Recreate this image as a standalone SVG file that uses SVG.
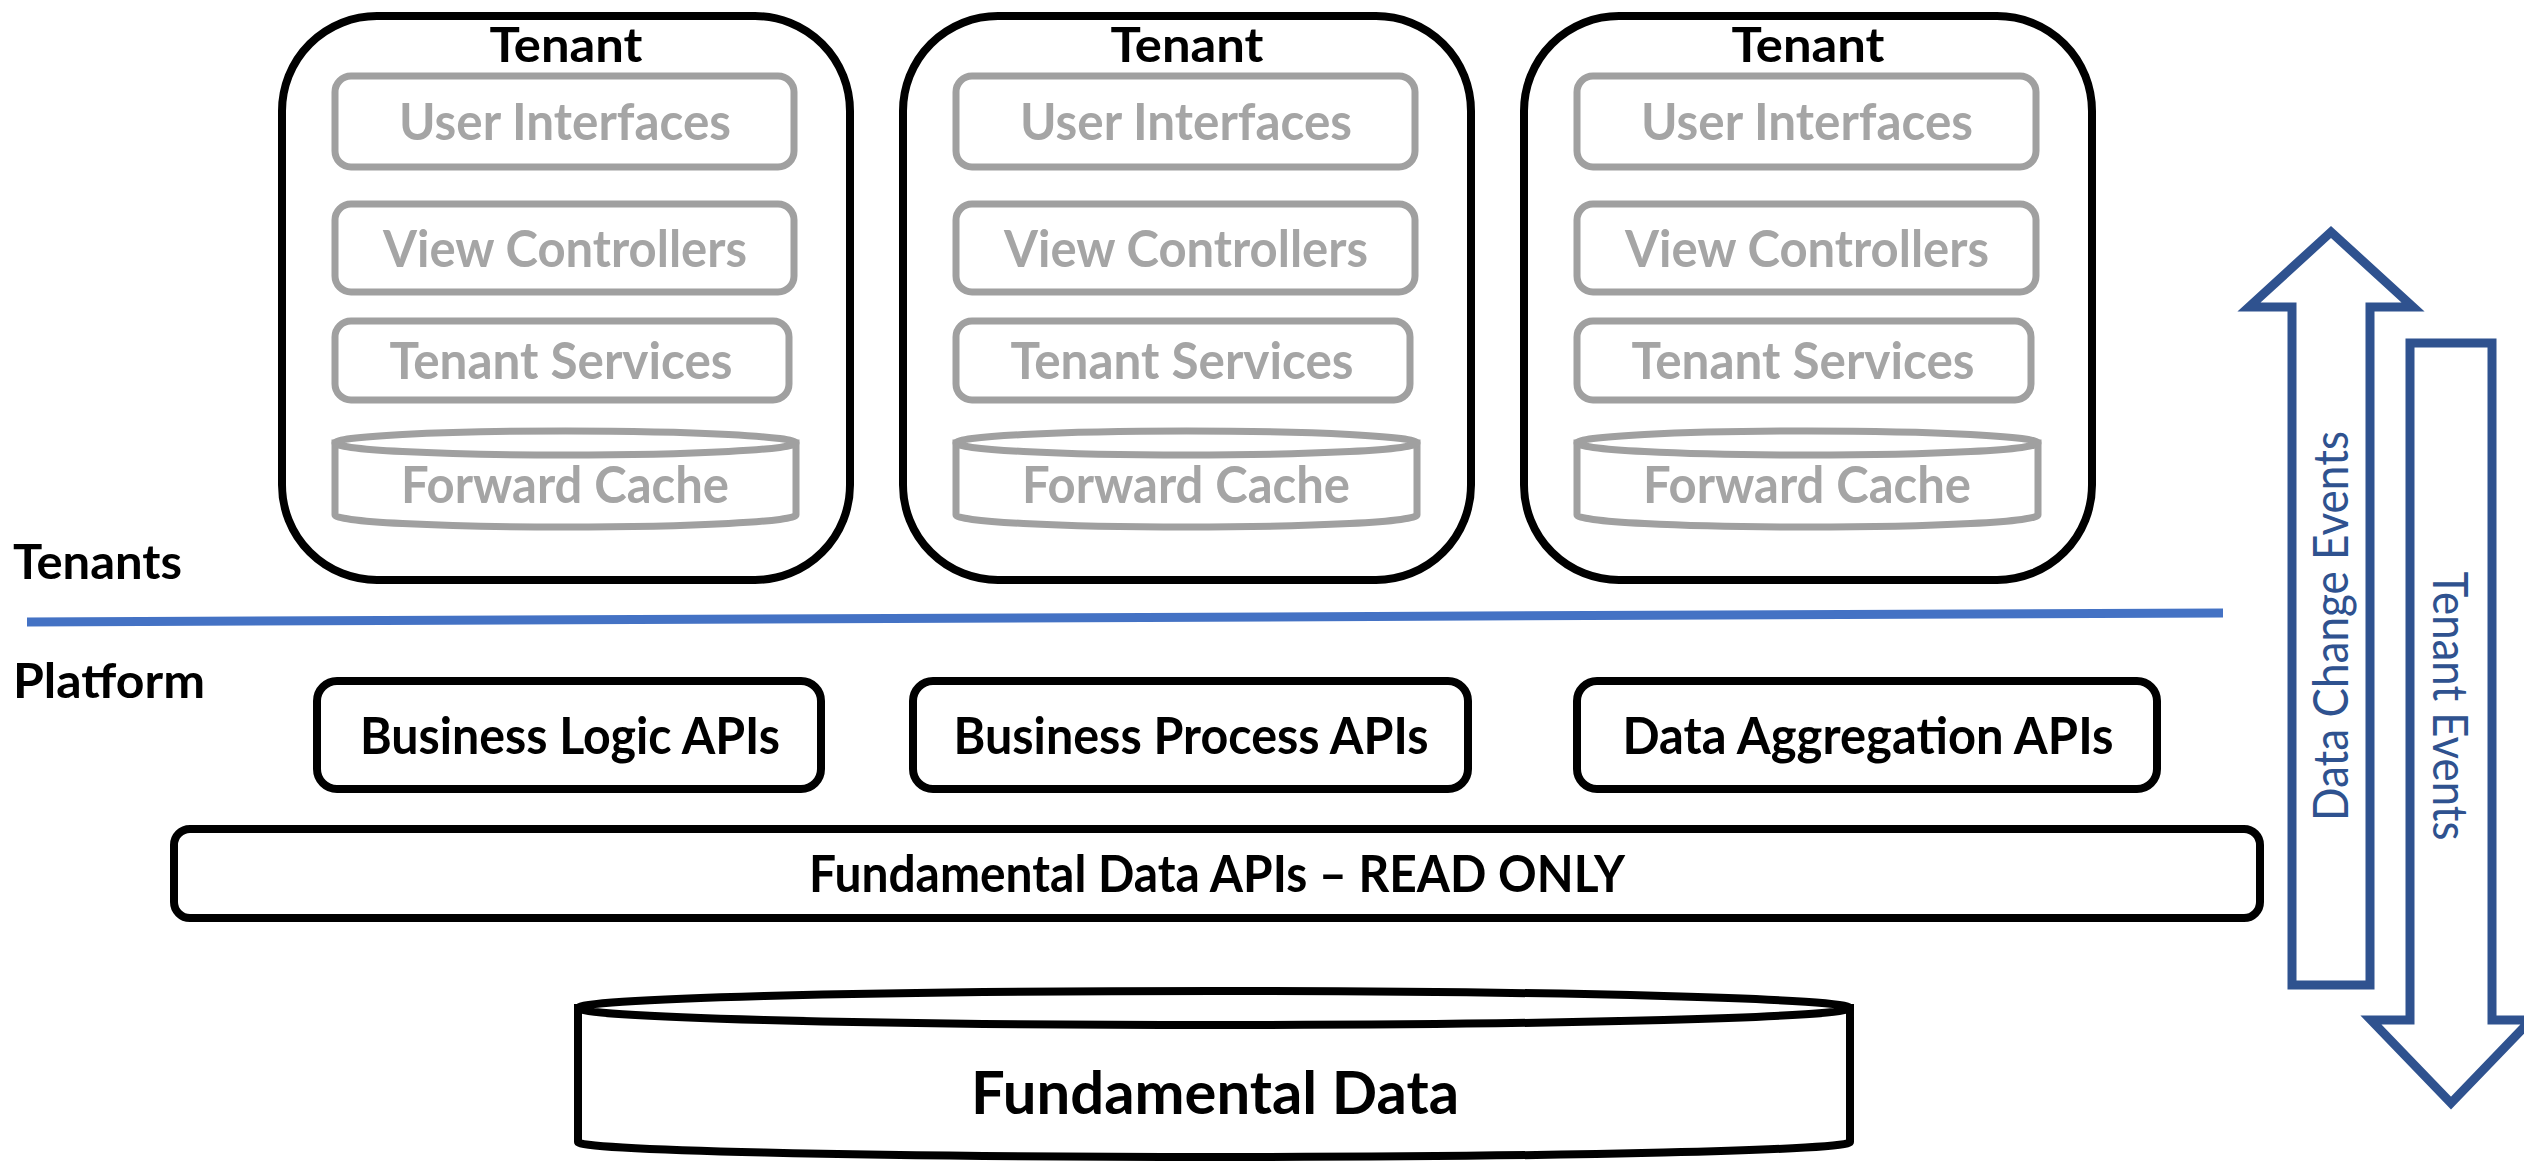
<svg xmlns="http://www.w3.org/2000/svg" width="2524" height="1173" viewBox="0 0 2524 1173">
<style>
.bg{fill:#ffffff}
.outer{fill:#ffffff;stroke:#000000;stroke-width:8}
.inner{fill:#ffffff;stroke:#A0A0A0;stroke-width:7}
.box{fill:#ffffff;stroke:#000000;stroke-width:8}
.t{font-family:Lato,"Open Sans","Liberation Sans",sans-serif;font-weight:700;text-anchor:middle}
.title{font-size:47px;fill:#000000}
.gray{font-size:51px;fill:#A5A5A5}
.lbl{font-size:52px;fill:#000000}
.side{font-family:Lato,"Open Sans","Liberation Sans",sans-serif;font-weight:700;font-size:48px;fill:#000000}
.big{font-size:60px;fill:#000000}
.arrow{fill:#ffffff;stroke:#2F528F;stroke-width:9;stroke-linejoin:miter}
.at{font-family:Lato,"Open Sans","Liberation Sans",sans-serif;font-weight:400;font-size:49px;fill:#2F528F;text-anchor:middle}
</style>
<rect class="bg" x="0" y="0" width="2524" height="1173"/>

<g id="tenant-1">
  <rect class="outer" x="282" y="16" width="568" height="564" rx="95"/>
  <text class="t title" x="566" y="62" textLength="153" lengthAdjust="spacingAndGlyphs">Tenant</text>
  <rect class="inner" x="335" y="76" width="459" height="91" rx="16"/>
  <text class="t gray" x="565" y="140" textLength="332" lengthAdjust="spacingAndGlyphs">User Interfaces</text>
  <rect class="inner" x="335" y="204" width="459" height="88" rx="16"/>
  <text class="t gray" x="565" y="267" textLength="364" lengthAdjust="spacingAndGlyphs">View Controllers</text>
  <rect class="inner" x="335" y="321" width="454" height="79" rx="16"/>
  <text class="t gray" x="561" y="379" textLength="343" lengthAdjust="spacingAndGlyphs">Tenant Services</text>
  <path class="inner" d="M335,443 L335,515 A230.5,12 0 0 0 796,515 L796,443 Z"/>
  <ellipse class="inner" cx="565.5" cy="443" rx="230.5" ry="12"/>
  <text class="t gray" x="565" y="503" textLength="328" lengthAdjust="spacingAndGlyphs">Forward Cache</text>
</g>

<g id="tenant-2" transform="translate(621,0)">
  <rect class="outer" x="282" y="16" width="568" height="564" rx="95"/>
  <text class="t title" x="566" y="62" textLength="153" lengthAdjust="spacingAndGlyphs">Tenant</text>
  <rect class="inner" x="335" y="76" width="459" height="91" rx="16"/>
  <text class="t gray" x="565" y="140" textLength="332" lengthAdjust="spacingAndGlyphs">User Interfaces</text>
  <rect class="inner" x="335" y="204" width="459" height="88" rx="16"/>
  <text class="t gray" x="565" y="267" textLength="364" lengthAdjust="spacingAndGlyphs">View Controllers</text>
  <rect class="inner" x="335" y="321" width="454" height="79" rx="16"/>
  <text class="t gray" x="561" y="379" textLength="343" lengthAdjust="spacingAndGlyphs">Tenant Services</text>
  <path class="inner" d="M335,443 L335,515 A230.5,12 0 0 0 796,515 L796,443 Z"/>
  <ellipse class="inner" cx="565.5" cy="443" rx="230.5" ry="12"/>
  <text class="t gray" x="565" y="503" textLength="328" lengthAdjust="spacingAndGlyphs">Forward Cache</text>
</g>

<g id="tenant-3" transform="translate(1242,0)">
  <rect class="outer" x="282" y="16" width="568" height="564" rx="95"/>
  <text class="t title" x="566" y="62" textLength="153" lengthAdjust="spacingAndGlyphs">Tenant</text>
  <rect class="inner" x="335" y="76" width="459" height="91" rx="16"/>
  <text class="t gray" x="565" y="140" textLength="332" lengthAdjust="spacingAndGlyphs">User Interfaces</text>
  <rect class="inner" x="335" y="204" width="459" height="88" rx="16"/>
  <text class="t gray" x="565" y="267" textLength="364" lengthAdjust="spacingAndGlyphs">View Controllers</text>
  <rect class="inner" x="335" y="321" width="454" height="79" rx="16"/>
  <text class="t gray" x="561" y="379" textLength="343" lengthAdjust="spacingAndGlyphs">Tenant Services</text>
  <path class="inner" d="M335,443 L335,515 A230.5,12 0 0 0 796,515 L796,443 Z"/>
  <ellipse class="inner" cx="565.5" cy="443" rx="230.5" ry="12"/>
  <text class="t gray" x="565" y="503" textLength="328" lengthAdjust="spacingAndGlyphs">Forward Cache</text>
</g>

<g id="layer-labels">
  <text class="side" x="13" y="579" textLength="169" lengthAdjust="spacingAndGlyphs">Tenants</text>
  <text class="side" x="13" y="698" textLength="192" lengthAdjust="spacingAndGlyphs">Platform</text>
</g>

<g id="divider">
  <path d="M27,622 L2223,613" stroke="#4472C4" stroke-width="9" fill="none"/>
</g>

<g id="business-logic-apis">
  <rect class="box" x="317" y="681" width="504" height="108" rx="20"/>
  <text class="t lbl" x="570" y="754" textLength="420" lengthAdjust="spacingAndGlyphs">Business Logic APIs</text>
</g>
<g id="business-process-apis">
  <rect class="box" x="913" y="681" width="555" height="108" rx="20"/>
  <text class="t lbl" x="1191" y="754" textLength="475" lengthAdjust="spacingAndGlyphs">Business Process APIs</text>
</g>
<g id="data-aggregation-apis">
  <rect class="box" x="1577" y="681" width="580" height="108" rx="20"/>
  <text class="t lbl" x="1868" y="754" textLength="491" lengthAdjust="spacingAndGlyphs">Data Aggregation APIs</text>
</g>
<g id="fundamental-data-apis">
  <rect class="box" x="174" y="829" width="2086" height="89" rx="16"/>
  <text class="t lbl" x="1217" y="892" textLength="816" lengthAdjust="spacingAndGlyphs">Fundamental Data APIs – READ ONLY</text>
</g>
<g id="fundamental-data">
  <path class="box" d="M578,1008 L578,1142 A636,15 0 0 0 1850,1142 L1850,1008 Z"/>
  <ellipse class="box" cx="1214" cy="1008" rx="636" ry="17"/>
  <text class="t big" x="1215" y="1114" textLength="488" lengthAdjust="spacingAndGlyphs">Fundamental Data</text>
</g>

<g id="connectors">
  <g id="data-change-events">
    <polygon class="arrow" points="2331,232 2413,307 2370,307 2370,985 2292,985 2292,307 2249,307"/>
    <text class="at" transform="translate(2348,626) rotate(-90)" textLength="390" lengthAdjust="spacingAndGlyphs">Data Change Events</text>
  </g>
  <g id="tenant-events">
    <polygon class="arrow" points="2410,343 2492,343 2492,1020 2531,1020 2451,1103 2371,1020 2410,1020"/>
    <text class="at" transform="translate(2433,706) rotate(90)" textLength="269" lengthAdjust="spacingAndGlyphs">Tenant Events</text>
  </g>
</g>
</svg>
